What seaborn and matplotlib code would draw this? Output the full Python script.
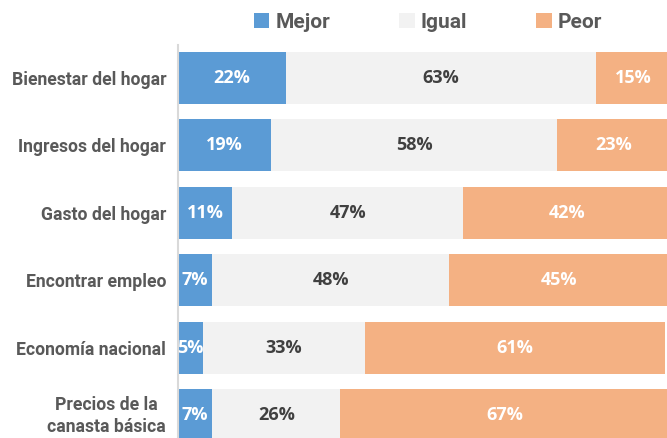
import numpy as np
import pandas as pd
import matplotlib
matplotlib.use("Agg")
import matplotlib.pyplot as plt
import matplotlib.transforms as mtransforms
import seaborn as sns
from matplotlib.patches import Patch

# Datos
CATEGORIAS = [
    "Bienestar del hogar",
    "Ingresos del hogar",
    "Gasto del hogar",
    "Encontrar empleo",
    "Economía nacional",
    "Precios de la\ncanasta básica",
]
MEJOR = [22, 19, 11, 7, 5, 7]
IGUAL = [63, 58, 47, 48, 33, 26]
PEOR = [15, 23, 42, 45, 61, 67]

SERIES = ["Mejor", "Igual", "Peor"]
COLORES = {"Mejor": "#5B9BD5", "Igual": "#F2F2F2", "Peor": "#F4B183"}
COLOR_TEXTO = {"Mejor": "white", "Igual": "#404040", "Peor": "white"}

sns.set_style("white")
plt.rcParams["font.family"] = ["Roboto", "DejaVu Sans"]

df = pd.DataFrame({"cat": CATEGORIAS, "Mejor": MEJOR, "Igual": IGUAL, "Peor": PEOR})
df["c1"] = df["Mejor"]
df["c2"] = df["Mejor"] + df["Igual"]
df["c3"] = df["c2"] + df["Peor"]

fig = plt.figure(figsize=(6.67, 4.38), dpi=100)
ax = fig.add_axes([178 / 667, 0, 1 - 178 / 667, 393 / 438])

# barre cumulative, dalla piu lunga alla piu corta
for col, serie in [("c3", "Peor"), ("c2", "Igual"), ("c1", "Mejor")]:
    sns.barplot(data=df, y="cat", x=col, color=COLORES[serie], width=0.77,
                saturation=1, orient="h", ax=ax, linewidth=0)

# etichette
for i, row in df.iterrows():
    start = 0
    for serie in SERIES:
        v = row[serie]
        ax.text(start + v / 2, i, f"{v}%", ha="center", va="center",
                fontsize=13, fontweight="bold", color=COLOR_TEXTO[serie],
                family=["Open Sans", "DejaVu Sans"])
        start += v

ax.set_xlim(0, 99.4)
ax.set_ylim(5.34, -0.49)
ax.set_xlabel("")
ax.set_ylabel("")
ax.set_xticks([])
ax.tick_params(axis="y", length=0, pad=8.5)
for lab in ax.get_yticklabels():
    lab.set_fontsize(12.7)
    lab.set_fontweight("bold")
    lab.set_color("#595959")
    lab.set_multialignment("center")
    lab.set_linespacing(1.25)
# l'ultima etichetta un poco piu in alto, per non tagliarla
last = ax.get_yticklabels()[-1]
last.set_transform(last.get_transform() + mtransforms.ScaledTranslation(0, 3 / 100, fig.dpi_scale_trans))
for s in ["top", "right", "bottom"]:
    ax.spines[s].set_visible(False)
ax.spines["left"].set_color("#D9D9D9")
ax.spines["left"].set_linewidth(1.5)

handles = [Patch(facecolor=COLORES[s], edgecolor="none") for s in SERIES]
leg = fig.legend(handles, SERIES, loc="center", bbox_to_anchor=(428 / 667, 1 - 22 / 438),
                 ncol=3, frameon=False, handlelength=0.75, handleheight=0.75,
                 handletextpad=0.3, columnspacing=3.3,
                 prop={"size": 15, "weight": "bold"})
for t in leg.get_texts():
    t.set_color("#595959")

fig.savefig("out.png", dpi=100)
